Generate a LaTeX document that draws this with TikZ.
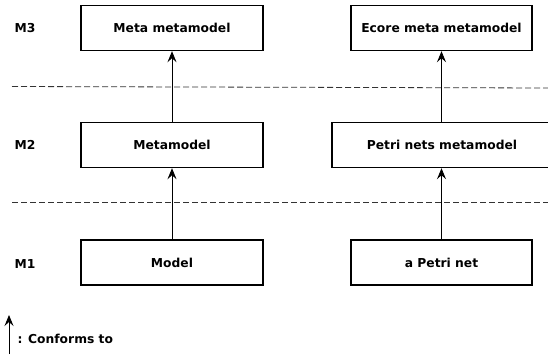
\documentclass[tikz,border=0pt]{standalone}
\usepackage{fontspec}
\setmainfont{DejaVu Sans}
\usetikzlibrary{arrows.meta}
\begin{document}
\begin{tikzpicture}[x=1pt,y=-1pt,
  box/.style={draw,line width=1.4pt,minimum height=45pt,font=\fontsize{12.3}{14}\selectfont\bfseries,inner sep=0pt},
  lvl/.style={font=\fontsize{12.3}{14}\selectfont\bfseries,anchor=west},
  conf/.style={-{Stealth[length=11pt,width=9pt,inset=4pt]},line width=0.9pt},
  sep/.style={dashed,line width=0.8pt,dash pattern=on 6pt off 3pt,black!80}]
\useasboundingbox (0,0) rectangle (548,356);
\node[box,minimum width=182pt] (mm) at (172,28) {Meta metamodel};
\node[box,minimum width=181pt] (emm) at (441.5,28) {Ecore meta metamodel};
\node[box,minimum width=220pt] (pnm) at (442,145) {Petri nets metamodel};
\node[box,minimum width=182pt] (meta) at (172,145) {Metamodel};
\node[box,minimum width=182pt] (model) at (172,262.5) {Model};
\node[box,minimum width=181pt] (pn) at (441.5,262.5) {a Petri net};
\node[lvl] (m3) at (11,28) {M3};
\node[lvl] (m2) at (11,145) {M2};
\node[lvl] (m1) at (11,264) {M1};
\coordinate (d1a) at (12,86.5);
\coordinate (d1b) at (548,88);
\coordinate (d2a) at (12,202);
\coordinate (d2b) at (548,202);
\draw[sep] (d1a) -- (d1b);
\draw[sep] (d2a) -- (d2b);
\draw[conf] (meta.north) -- (mm.south);
\draw[conf] (model.north) -- (meta.south);
\draw[conf] (emm.south |- pnm.north) -- (emm.south);
\draw[conf] (pn.north) -- (pn.north |- pnm.south);
\coordinate (la) at (9,354);
\coordinate (lb) at (9,315);
\draw[conf] (la) -- (lb);
\node[lvl] (ct) at (14,339) {: Conforms to};
\end{tikzpicture}
\end{document}
